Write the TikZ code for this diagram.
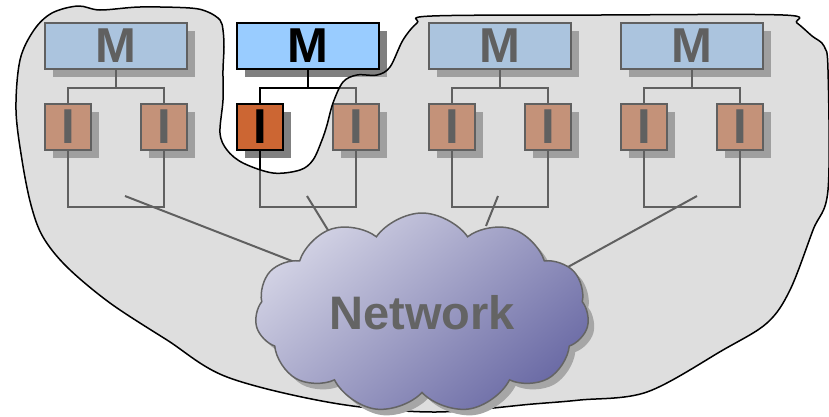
\documentclass[tikz,border=0pt]{standalone}
\usepackage{fontspec}
\setmainfont{Liberation Sans}
\usetikzlibrary{shapes.symbols,shadows}

\definecolor{mblue}{HTML}{99CCFF}
\definecolor{iorange}{HTML}{CC6633}
\definecolor{veil}{RGB}{190,190,190}
\definecolor{netlight}{HTML}{D2D2E4}
\definecolor{netdark}{HTML}{6C6CA6}
\definecolor{netline}{HTML}{646464}

\tikzset{
  boxshadow/.style={drop shadow={shadow xshift=8pt, shadow yshift=-8pt, fill=black!50, opacity=1}},
  master/.style={draw=black, line width=2pt, fill=mblue, minimum width=142pt, minimum height=46pt,
    inner sep=0pt, font=\fontsize{49}{49}\selectfont\bfseries, boxshadow},
  worker/.style={draw=black, line width=2pt, fill=iorange, minimum width=46pt, minimum height=46pt,
    inner sep=0pt, font=\fontsize{49}{49}\selectfont\bfseries, boxshadow},
  wire/.style={draw=black, line width=2pt},
  netcloud/.style={cloud, cloud puffs=11, cloud puff arc=110, aspect=1.75,
    minimum width=334pt, minimum height=200pt, inner sep=0pt,
    draw=netline, line width=1.5pt, top color=netlight, bottom color=netdark, shading angle=40,
    drop shadow={shadow xshift=6pt, shadow yshift=-6pt, fill=black!35, opacity=1},
    text=netline, font=\fontsize{47}{47}\selectfont\bfseries}
}

\begin{document}
\begin{tikzpicture}[x=1pt, y=-1pt]
    \useasboundingbox (0,0) rectangle (829,416);

    % masters
    \node[master] (m1) at (116,46) {M};
    \node[master] (m2) at (308,46) {M};
    \node[master] (m3) at (500,46) {M};
    \node[master] (m4) at (692,46) {M};

    % workers
    \node[worker] (i1) at (68,127) {I};
    \node[worker] (i2) at (164,127) {I};
    \node[worker] (i3) at (260,127) {I};
    \node[worker] (i4) at (356,127) {I};
    \node[worker] (i5) at (452,127) {I};
    \node[worker] (i6) at (548,127) {I};
    \node[worker] (i7) at (644,127) {I};
    \node[worker] (i8) at (740,127) {I};

    % trees
    \coordinate (j1) at (116,88);
    \coordinate (j2) at (308,88);
    \coordinate (j3) at (500,88);
    \coordinate (j4) at (692,88);
    \draw[wire] (m1.south) -- (j1);
    \draw[wire] (m2.south) -- (j2);
    \draw[wire] (m3.south) -- (j3);
    \draw[wire] (m4.south) -- (j4);
    \draw[wire] (i1.north) |- (j1) -| (i2.north);
    \draw[wire] (i3.north) |- (j2) -| (i4.north);
    \draw[wire] (i5.north) |- (j3) -| (i6.north);
    \draw[wire] (i7.north) |- (j4) -| (i8.north);
    \draw[wire] (i1.south) -- ++(0,56) -| (i2.south);
    \draw[wire] (i3.south) -- ++(0,56) -| (i4.south);
    \draw[wire] (i5.south) -- ++(0,56) -| (i6.south);
    \draw[wire] (i7.south) -- ++(0,56) -| (i8.south);

    % links to the network
    \coordinate (t1) at (125,196);
    \coordinate (t2) at (307,196);
    \coordinate (t3) at (498,196);
    \coordinate (t4) at (697,196);
    \coordinate (n1) at (292,261);
    \coordinate (n2) at (331,235);
    \coordinate (n3) at (486,226);
    \coordinate (n4) at (557,273);
    \draw[wire] (t1) -- (n1);
    \draw[wire] (t2) -- (n2);
    \draw[wire] (t3) -- (n3);
    \draw[wire] (t4) -- (n4);

    % grey veil over everything but the selected part
    \draw[black, line width=1.5pt, fill=veil, fill opacity=0.506]
      plot[smooth cycle, tension=0.55] coordinates {
        (78,6) (100,10) (140,7) (190,8) (208,12) (220,20) (223,30) (224,47)
        (223,70) (223,100) (220,133) (227,150) (243,163) (273,173) (300,170)
        (313,160) (322,140) (327,125) (333,103) (343,82) (357,75) (377,75)
        (390,67) (403,40) (417,23) (432,16) (600,15) (783,15) (797,23)
        (812,36) (824,46) (828,70) (828,190) (813,230) (790,290) (767,323)
        (723,350) (647,392) (580,400) (533,404) (433,412) (333,403) (227,377)
        (167,340) (110,303) (67,267) (43,237) (31,205) (22,160) (16,110)
        (20,60) (34,30) (52,13)};

    \node[netcloud] (net) at (422,313) {Network};
\end{tikzpicture}
\end{document}
